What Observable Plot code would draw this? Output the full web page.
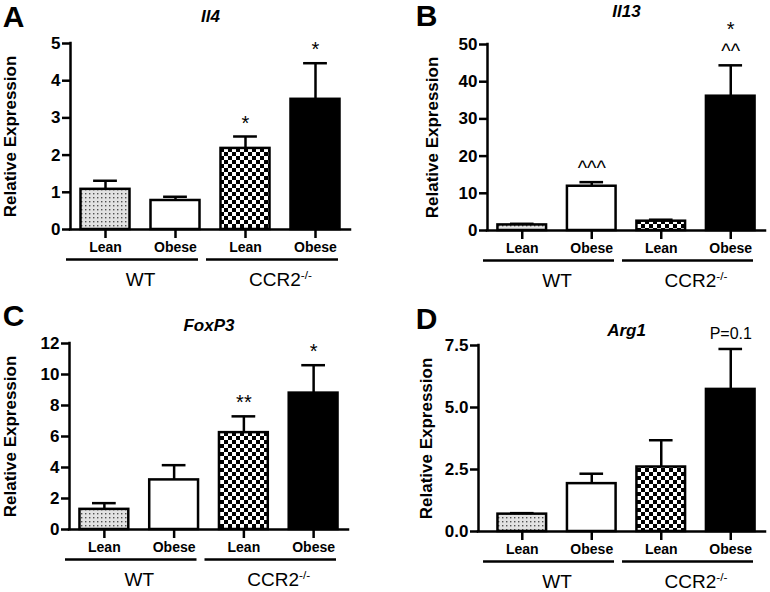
<!DOCTYPE html>
<html><head><meta charset="utf-8">
<script src="https://cdn.jsdelivr.net/npm/d3@7"></script>
<script src="https://cdn.jsdelivr.net/npm/@observablehq/plot@0.6"></script>
<style>
body{margin:0;background:#fff;}
#root{position:relative;width:770px;height:592px;background:#fff;}
.panel{position:absolute;width:385px;height:296px;}
.panel svg{overflow:visible;}
.panel g[aria-label="y-axis tick label"] text{font-weight:bold;}
.panel g[aria-label="x-axis tick label"] text{font-weight:bold;}
</style></head><body>
<svg width="0" height="0" style="position:absolute">
<defs>
<pattern id="stipple" width="4" height="4" patternUnits="userSpaceOnUse">
<rect width="4" height="4" fill="#e2e2e2"/>
<rect x="1" y="1" width="1.4" height="1.4" fill="#505050"/>
</pattern>
<pattern id="checker" width="8" height="8" patternUnits="userSpaceOnUse">
<rect width="8" height="8" fill="#fff"/>
<rect width="4" height="4" fill="#000"/>
<rect x="4" y="4" width="4" height="4" fill="#000"/>
</pattern>
</defs></svg>
<div id="root"></div>
<script>
// ---- data ----
const categories = ["WT Lean", "WT Obese", "CCR2 Lean", "CCR2 Obese"];
const tickLabels = ["Lean", "Obese", "Lean", "Obese"];
const groupNames = ["WT", "CCR2"];
const groupLabels = ["WT", "CCR2"];
const groupSup = ["", "-/-"];
const groupOf = [0, 0, 1, 1];
const panelLetters = ["A", "B", "C", "D"];
const genes = ["Il4", "Il13", "FoxP3", "Arg1"];
const yLabel = "Relative Expression";

const il4Mean = [1.08, 0.78, 2.18, 3.50];
const il4Err = [1.31, 0.88, 2.50, 4.47];
const il4Ann = ["", "", "*", "*"];
const il4Ann2 = ["", "", "", ""];
const il4Ticks = [0, 1, 2, 3, 4, 5];

const il13Mean = [1.5, 11.9, 2.5, 36.1];
const il13Err = [1.8, 13.0, 2.9, 44.4];
const il13Ann = ["", "^^^", "", "^^"];
const il13Ann2 = ["", "", "", "*"];
const il13Ticks = [0, 10, 20, 30, 40, 50];

const foxp3Mean = [1.3, 3.2, 6.25, 8.8];
const foxp3Err = [1.7, 4.15, 7.3, 10.6];
const foxp3Ann = ["", "", "**", "*"];
const foxp3Ann2 = ["", "", "", ""];
const foxp3Ticks = [0, 2, 4, 6, 8, 10, 12];

const arg1Mean = [0.7, 1.93, 2.6, 5.73];
const arg1Err = [0.74, 2.33, 3.68, 7.36];
const arg1Ann = ["", "", "", "P=0.1"];
const arg1Ann2 = ["", "", "", ""];
const arg1Ticks = [0, 2.5, 5, 7.5];

// ---- styles / layout ----
const barFills = ["url(#stipple)", "#ffffff", "url(#checker)", "#000000"];
const FONT = "'Liberation Sans', Arial, Helvetica, sans-serif";

const panels = [
  {letter: panelLetters[0], gene: genes[0], mean: il4Mean, err: il4Err, ann: il4Ann, ann2: il4Ann2, ticks: il4Ticks, fmt: d => d3.format("d")(d),
   pos: [0, 0], mL: 70, mR: 35, mT: 43, mB: 67, xMin: -0.5, labelX: 10.5, titleY: 16, letterX: 13, letterY: 17},
  {letter: panelLetters[1], gene: genes[1], mean: il13Mean, err: il13Err, ann: il13Ann, ann2: il13Ann2, ticks: il13Ticks, fmt: d => d3.format("d")(d),
   pos: [385, 0], mL: 102, mR: 5, mT: 44, mB: 66, xMin: -0.5, labelX: 47.5, titleY: 11, letterX: 41, letterY: 16},
  {letter: panelLetters[2], gene: genes[2], mean: foxp3Mean, err: foxp3Err, ann: foxp3Ann, ann2: foxp3Ann2, ticks: foxp3Ticks, fmt: d => d3.format("d")(d),
   pos: [0, 296], mL: 69, mR: 37, mT: 47, mB: 63, xMin: -0.5, labelX: 10.5, titleY: 29, letterX: 13, letterY: 20},
  {letter: panelLetters[3], gene: genes[3], mean: arg1Mean, err: arg1Err, ann: arg1Ann, ann2: arg1Ann2, ticks: arg1Ticks, fmt: d => d3.format(".1f")(d),
   pos: [385, 296], mL: 93, mR: 5, mT: 49, mB: 61, xMin: -0.63, labelX: 41, titleY: 34, letterX: 41, letterY: 23}
];

const root = document.getElementById("root");
const idx = categories.map((_, i) => i);
const centerIdx = d3.mean(idx);
const isPText = s => /^P/.test(s);

for (const p of panels) {
  const rows = categories.map((c, i) => ({
    i, cat: c, mean: p.mean[i], err: p.err[i], fill: barFills[i],
    ann: [p.ann2[i], p.ann[i]].filter(s => s).join("\n")
  }));
  const groups = groupNames.map((g, k) => {
    const members = idx.filter(i => groupOf[i] === k);
    return {label: groupLabels[k], sup: groupSup[k], first: d3.min(members), last: d3.max(members)};
  });
  const yMax = d3.max(p.ticks);
  const svg = Plot.plot({
    width: 385, height: 296,
    marginLeft: p.mL, marginRight: p.mR, marginTop: p.mT, marginBottom: p.mB,
    style: {fontFamily: FONT, background: "white", overflow: "visible", color: "black"},
    x: {domain: [p.xMin, idx.length - 0.5]},
    y: {domain: [0, yMax]},
    color: {type: "identity"},
    marks: [
      Plot.ruleX(rows, {x: "i", y1: "mean", y2: "err", stroke: "black", strokeWidth: 2.5}),
      Plot.ruleY(rows, {y: "err", x1: d => d.i - 0.17, x2: d => d.i + 0.17, stroke: "black", strokeWidth: 2.5}),
      Plot.rect(rows, {x1: d => d.i - 0.35, x2: d => d.i + 0.35, y1: () => 0, y2: "mean", fill: "fill", stroke: "black", strokeWidth: 2.5}),
      Plot.axisY({ticks: p.ticks, tickFormat: p.fmt, tickSize: 8, tickPadding: 2, fontSize: 17, fontWeight: "bold", strokeWidth: 2.5, label: null}),
      Plot.axisX({ticks: idx, tickFormat: i => tickLabels[i], tickSize: 9, tickPadding: 4, fontSize: 14, fontWeight: "bold", strokeWidth: 2.5, label: null}),
      Plot.ruleY([0], {stroke: "black", strokeWidth: 2.5, strokeLinecap: "square"}),
      Plot.ruleX([p.xMin], {stroke: "black", strokeWidth: 2.5, strokeLinecap: "square"}),
      Plot.ruleY(groups, {y: () => 0, x1: d => d.first - 0.5, x2: d => d.last + 0.5, dy: 30, insetLeft: -4, insetRight: 12, stroke: "black", strokeWidth: 2.5}),
      Plot.text(groups, {x: d => (d.first + d.last) / 2, y: () => 0, dy: 50, text: "label", fontSize: 19, fill: "black"}),
      Plot.text(rows.filter(d => d.ann && !isPText(d.ann)), {x: "i", y: "err", text: "ann", dy: -7, fontSize: 20, lineHeight: 1.1, lineAnchor: "bottom", fill: "black"}),
      Plot.text(rows.filter(d => d.ann && isPText(d.ann)), {x: "i", y: "err", text: "ann", dy: -10, fontSize: 16, lineAnchor: "bottom", fill: "black"}),
      Plot.text([p.gene], {x: () => centerIdx, frameAnchor: "top", lineAnchor: "middle", dy: p.titleY - p.mT, fontSize: 17, fontWeight: "bold", fontStyle: "italic", fill: "black"}),
      Plot.text([yLabel], {frameAnchor: "left", textAnchor: "middle", lineAnchor: "middle", rotate: -90, dx: p.labelX - p.mL, fontSize: 17, fontWeight: "bold", fill: "black"}),
      Plot.text([p.letter], {frameAnchor: "top-left", dx: p.letterX - p.mL, dy: p.letterY - p.mT, textAnchor: "middle", lineAnchor: "middle", fontSize: 30, fontWeight: "bold", fill: "black"})
    ]
  });
  const sel = d3.select(svg);
  sel.selectAll("text").each(function() {
    const t = this.textContent;
    const g = groups.find(g => g.sup && g.label === t);
    if (g && this.childNodes.length === 1 && this.firstChild.nodeType === 3) {
      d3.select(this).append("tspan").attr("dy", "-0.6em").attr("font-size", "0.62em").text(g.sup);
    }
  });
  const wrap = document.createElement("div");
  wrap.className = "panel";
  wrap.style.left = p.pos[0] + "px";
  wrap.style.top = p.pos[1] + "px";
  wrap.appendChild(svg);
  root.appendChild(wrap);
}
</script>
</body></html>
